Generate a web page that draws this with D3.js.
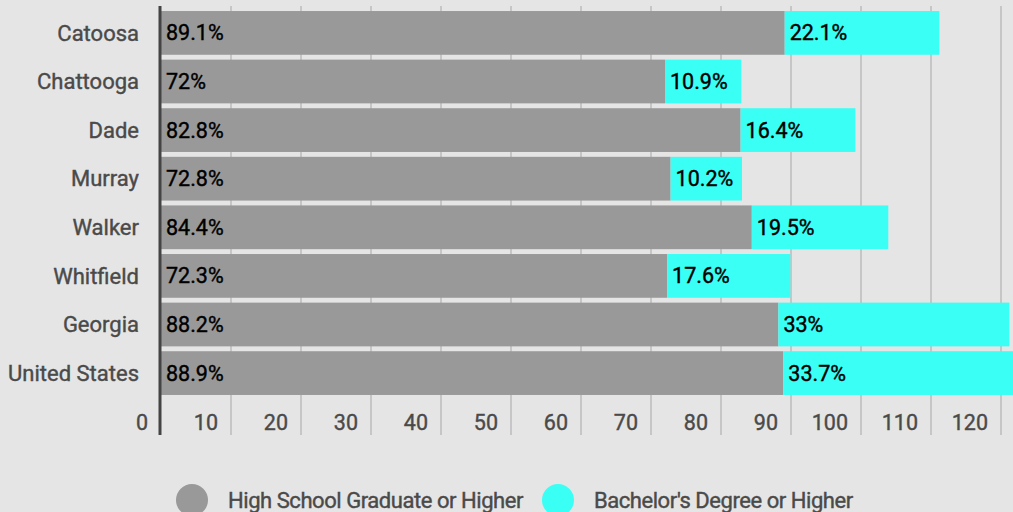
<!DOCTYPE html>
<html><head><meta charset="utf-8">
<script src="https://cdn.jsdelivr.net/npm/d3@7"></script>
<style>
html,body{margin:0;padding:0;background:#e5e5e5;overflow:hidden}
text{font-family:Roboto,"Noto Sans",sans-serif}
</style></head>
<body><svg id="c" width="1013" height="512"></svg>
<script>
const categories = ["Catoosa","Chattooga","Dade","Murray","Walker","Whitfield","Georgia","United States"];
const highSchool = [89.1,72,82.8,72.8,84.4,72.3,88.2,88.9];
const bachelors = [22.1,10.9,16.4,10.2,19.5,17.6,33,33.7];
const seriesNames = ["High School Graduate or Higher","Bachelor's Degree or Higher"];
const seriesColors = ["#999999","#3afff5"];
const tickValues = [0,10,20,30,40,50,60,70,80,90,100,110,120];

const svg = d3.select("#c");
svg.append("rect").attr("width",1013).attr("height",512).attr("fill","#e5e5e5");

const x = d3.scaleLinear().domain([0,120]).range([161,1001]);
const y = d3.scaleBand().domain(categories).range([8.6,397.4]).paddingInner(0.1).paddingOuter(0.05);

// gridlines
svg.append("g").selectAll("line").data(tickValues.filter(d=>d>0)).join("line")
  .attr("x1",d=>x(d)).attr("x2",d=>x(d)).attr("y1",6).attr("y2",435)
  .attr("stroke","#c6c6c6").attr("stroke-width",2);

const rows = categories.map((c,i)=>({c, hs:highSchool[i], ba:bachelors[i]}));

const g = svg.append("g");
g.selectAll("rect.hs").data(rows).join("rect").attr("class","hs")
  .attr("x",x(0)).attr("y",d=>y(d.c)).attr("width",d=>x(d.hs)-x(0)).attr("height",y.bandwidth())
  .attr("fill",seriesColors[0]);
g.selectAll("rect.ba").data(rows).join("rect").attr("class","ba")
  .attr("x",d=>x(d.hs)).attr("y",d=>y(d.c)).attr("width",d=>x(d.hs+d.ba)-x(d.hs)).attr("height",y.bandwidth())
  .attr("fill",seriesColors[1]);

function thick(sel, col){ return sel.attr("fill",col).attr("stroke",col).attr("stroke-width",0.4); }

thick(g.selectAll("text.hsl").data(rows).join("text")
  .attr("x",x(0)+5).attr("y",d=>y(d.c)+y.bandwidth()/2).attr("dy","0.35em")
  .attr("font-size",21.5).text(d=>d.hs+"%"), "#000");
thick(g.selectAll("text.bal").data(rows).join("text")
  .attr("x",d=>x(d.hs)+5).attr("y",d=>y(d.c)+y.bandwidth()/2).attr("dy","0.35em")
  .attr("font-size",21.5).text(d=>d.ba+"%"), "#000");

// category labels
thick(svg.append("g").selectAll("text").data(categories).join("text")
  .attr("x",139).attr("y",d=>y(d)+y.bandwidth()/2).attr("dy","0.35em")
  .attr("text-anchor","end").attr("font-size",22).text(d=>d), "#4a4a4a");

// x tick labels
thick(svg.append("g").selectAll("text").data(tickValues).join("text")
  .attr("x",d=>x(d)-13).attr("y",422).attr("dy","0.35em")
  .attr("text-anchor","end").attr("font-size",21.5).text(d=>d), "#4a4a4a");

// axis line
svg.append("line").attr("x1",x(0)-1).attr("x2",x(0)-1).attr("y1",6).attr("y2",435)
  .attr("stroke","#444").attr("stroke-width",3);

// legend
const legX = [192,558];
const lg = svg.append("g");
seriesNames.forEach((n,i)=>{
  lg.append("circle").attr("cx",legX[i]).attr("cy",500).attr("r",16).attr("fill",seriesColors[i]);
  thick(lg.append("text").attr("x",legX[i]+36).attr("y",500).attr("dy","0.35em")
    .attr("font-size",22).attr("letter-spacing",-0.45).text(n), "#4a4a4a");
});
</script></body></html>
